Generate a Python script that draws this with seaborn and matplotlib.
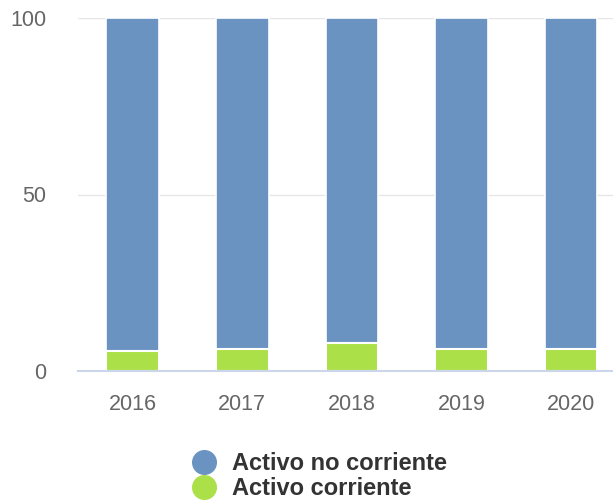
import matplotlib
matplotlib.use("Agg")
import matplotlib.pyplot as plt
import seaborn as sns
import pandas as pd
from matplotlib.lines import Line2D

years = ["2016", "2017", "2018", "2019", "2020"]
activo_corriente = [5.8, 6.3, 8.0, 6.3, 6.3]
activo_no_corriente = [100 - v for v in activo_corriente]
labels = ["Activo no corriente", "Activo corriente"]

blue = "#6b93c2"
green = "#ace048"

sns.set_theme(style="white")
plt.rcParams["font.family"] = ["Liberation Sans", "DejaVu Sans"]

df = pd.DataFrame({"year": years,
                   "corriente": activo_corriente,
                   "total": [a + b for a, b in zip(activo_corriente, activo_no_corriente)]})

fig = plt.figure(figsize=(6.13, 5.01), dpi=100)
ax = fig.add_axes([78 / 613, 130 / 501, 535 / 613, 353 / 501])

# stacked: blue full column, green drawn over the bottom
sns.barplot(data=df, x="year", y="total", color=blue, width=0.48,
            edgecolor="white", linewidth=1.2, saturation=1, ax=ax, zorder=2)
sns.barplot(data=df, x="year", y="corriente", color=green, width=0.48,
            edgecolor="white", linewidth=1.5, saturation=1, ax=ax, zorder=3)

ax.set_xlim(-0.5, 4.384)
ax.set_ylim(0, 100)
ax.set_yticks([0, 50, 100])
ax.set_xlabel("")
ax.set_ylabel("")
ax.grid(axis="y", color="#e6e6e6", linewidth=1)
ax.set_axisbelow(True)
for s in ["top", "right", "left"]:
    ax.spines[s].set_visible(False)
ax.spines["bottom"].set_color("#ccd6eb")
ax.spines["bottom"].set_linewidth(1.5)
ax.spines["bottom"].set_zorder(5)
ax.tick_params(axis="y", length=0, pad=23, labelsize=15.5, labelcolor="#666666")
ax.tick_params(axis="x", length=0, pad=16.5, labelsize=15.5, labelcolor="#666666")

handles = [Line2D([], [], marker="o", linestyle="", markersize=17, color=c)
           for c in [blue, green]]
leg = fig.legend(handles, labels, loc="center left",
                 bbox_to_anchor=(192 / 613, 25 / 501), frameon=False,
                 borderpad=0, borderaxespad=0, handlelength=1.0, handletextpad=0.68,
                 labelspacing=0.1, prop={"weight": "bold", "size": 17})
for t in leg.get_texts():
    t.set_color("#333333")

fig.savefig("out.png", dpi=100)
